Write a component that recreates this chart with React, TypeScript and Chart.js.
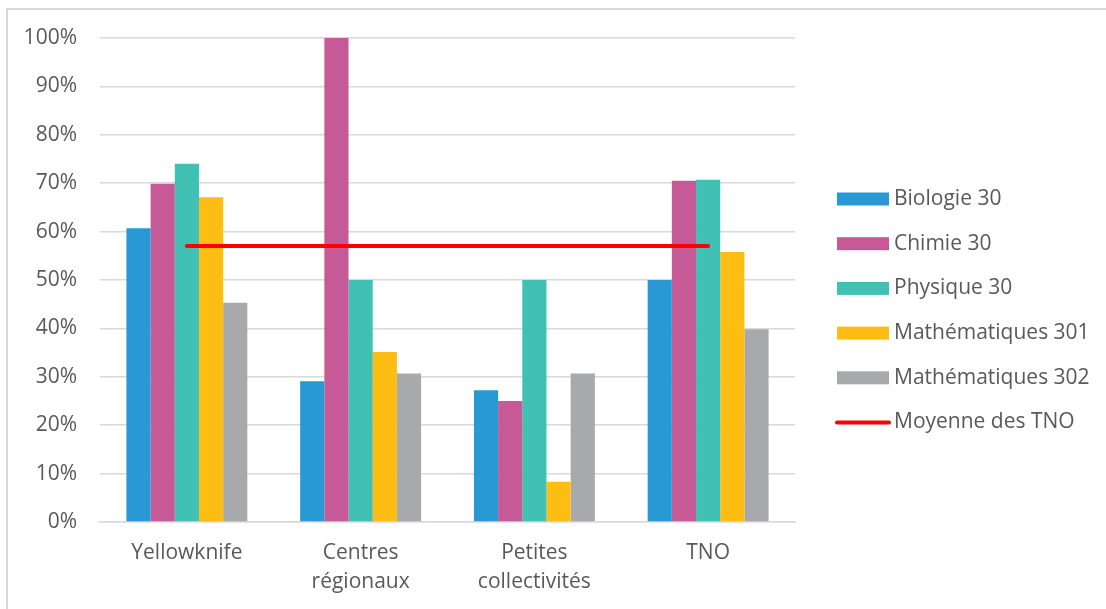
import React, { useEffect, useRef } from "react";
import { Chart, registerables } from "chart.js";

Chart.register(...registerables);

const categories: (string | string[])[] = [
  "Yellowknife",
  ["Centres", "régionaux"],
  ["Petites", "collectivités"],
  "TNO",
];

const seriesNames = [
  "Biologie 30",
  "Chimie 30",
  "Physique 30",
  "Mathématiques 301",
  "Mathématiques 302",
];
const lineName = "Moyenne des TNO";

const biologie = [60.7, 29.1, 27.2, 50.0];
const chimie = [69.9, 100.0, 25.0, 70.5];
const physique = [74.0, 50.0, 50.0, 70.7];
const math301 = [67.1, 35.1, 8.3, 55.8];
const math302 = [45.3, 30.7, 30.7, 39.8];
const moyenne = [57.0, 57.0, 57.0, 57.0];

const barColors = ["#2899D5", "#C55A96", "#41C0B4", "#FDBD13", "#A8A9AD"];
const lineColor = "#FF0000";

const FONT = "'Open Sans', sans-serif";
const TEXT = "#595959";
const FS = 21;

export default function App() {
  const ref = useRef<HTMLCanvasElement | null>(null);

  useEffect(() => {
    if (!ref.current) return;
    const values = [biologie, chimie, physique, math301, math302];

    const framePlugin = {
      id: "frame",
      beforeDraw(chart: any) {
        const ctx = chart.ctx;
        ctx.save();
        ctx.fillStyle = "#ffffff";
        ctx.fillRect(0, 0, chart.width, chart.height);
        ctx.strokeStyle = "#d9d9d9";
        ctx.lineWidth = 2;
        ctx.beginPath();
        ctx.moveTo(7, chart.height);
        ctx.lineTo(7, 9);
        ctx.lineTo(chart.width, 9);
        ctx.stroke();
        ctx.restore();
      },
    };

    const legendPlugin = {
      id: "customLegend",
      afterDraw(chart: any) {
        const ctx = chart.ctx;
        ctx.save();
        const x0 = 837;
        const bw = 52;
        const y0 = 199;
        const dy = 44.7;
        ctx.font = `${FS}px ${FONT}`;
        ctx.textBaseline = "middle";
        ctx.textAlign = "left";
        seriesNames.forEach((name, i) => {
          const y = y0 + i * dy;
          ctx.fillStyle = barColors[i];
          ctx.fillRect(x0, y - 6.5, bw, 13);
          ctx.fillStyle = TEXT;
          ctx.fillText(name, 894, y);
        });
        const yl = y0 + 5 * dy;
        ctx.strokeStyle = lineColor;
        ctx.lineWidth = 4;
        ctx.lineCap = "round";
        ctx.beginPath();
        ctx.moveTo(x0, yl);
        ctx.lineTo(x0 + bw, yl);
        ctx.stroke();
        ctx.fillStyle = TEXT;
        ctx.fillText(lineName, 894, yl);
        ctx.restore();
      },
    };

    const datasets: any[] = [
      {
        type: "line",
        label: lineName,
        data: moyenne,
        borderColor: lineColor,
        backgroundColor: lineColor,
        borderWidth: 4,
        borderCapStyle: "round",
        pointRadius: 0,
        fill: false,
        order: -1,
      },
      ...seriesNames.map((name, i) => ({
        type: "bar",
        label: name,
        data: values[i],
        backgroundColor: barColors[i],
        borderWidth: 0,
        categoryPercentage: 0.696,
        barPercentage: 1.0,
        order: 1,
      })),
    ];

    const chart = new Chart(ref.current, {
      type: "bar",
      data: { labels: categories as any, datasets },
      options: {
        responsive: false,
        animation: false,
        layout: { padding: { left: 0, top: 38, right: 311, bottom: 0 } },
        plugins: {
          legend: { display: false },
          tooltip: { enabled: false },
        },
        scales: {
          x: {
            grid: { display: false, drawTicks: false },
            border: { display: true, color: "#d9d9d9", width: 1.5 },
            ticks: {
              color: TEXT,
              font: { family: FONT, size: FS, lineHeight: 1.35 },
              padding: 17,
              maxRotation: 0,
            },
            afterFit(scale: any) {
              scale.height = 87;
            },
          },
          y: {
            min: 0,
            max: 100,
            grid: { color: "#d9d9d9", lineWidth: 1.5, drawTicks: false },
            border: { display: false },
            ticks: {
              stepSize: 10,
              color: TEXT,
              font: { family: FONT, size: FS },
              padding: 23,
              callback: (v: any) => `${v}%`,
            },
            afterFit(scale: any) {
              scale.width = 100;
            },
          },
        },
      },
      plugins: [framePlugin, legendPlugin],
    });
    return () => chart.destroy();
  }, []);

  return (
    <div style={{ position: "fixed", left: 0, top: 0, width: 1106, height: 609, background: "#fff" }}>
      <canvas ref={ref} width={1106} height={609} style={{ display: "block" }} />
    </div>
  );
}
